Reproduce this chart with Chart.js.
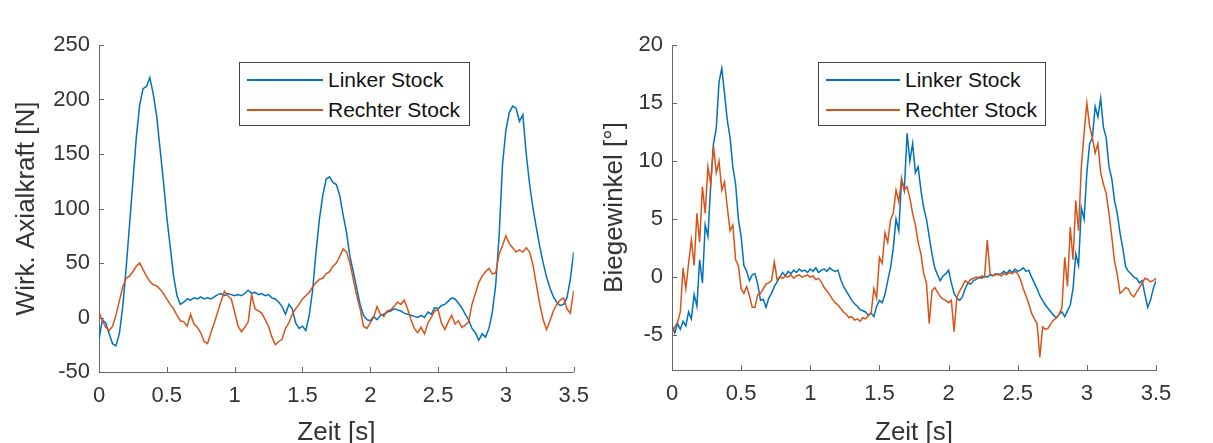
<!DOCTYPE html>
<html>
<head>
<meta charset="utf-8">
<script src="https://cdn.jsdelivr.net/npm/chart.js@4"></script>
<style>
    body { margin: 0; background: #fff; width: 1213px; height: 443px; overflow: hidden; position: relative; font-family: "Liberation Sans", Arial, sans-serif; }
    .plot { position: absolute; top: 0; height: 460px; }
    #boxKraft { left: 0; width: 600px; }
    #boxWinkel { left: 590px; width: 623px; }
    .legende { position: absolute; top: 62px; height: 64px; box-sizing: border-box; border: 1px solid #444; background: #fff; padding-top: 2px; z-index: 5; }
    .legende .zeile { display: flex; align-items: center; height: 30px; font-size: 21px; color: #111; white-space: nowrap; }
    .legende .strich { height: 1.6px; margin-left: 7px; margin-right: 5px; }
</style>
</head>
<body>

<div class="plot" id="boxKraft"><canvas id="kraft"></canvas></div>
<div class="plot" id="boxWinkel"><canvas id="winkel"></canvas></div>

<div class="legende" style="left:239px; width:231px;">
    <div class="zeile"><span class="strich" style="width:76px; background:#0072BD;"></span>Linker Stock</div>
    <div class="zeile"><span class="strich" style="width:76px; background:#D95319;"></span>Rechter Stock</div>
</div>
<div class="legende" style="left:818px; width:228px;">
    <div class="zeile"><span class="strich" style="width:74px; background:#0072BD;"></span>Linker Stock</div>
    <div class="zeile"><span class="strich" style="width:74px; background:#D95319;"></span>Rechter Stock</div>
</div>

<script>
// abtastung der kurven (s)
const dtKraft = 0.025;
const dtWinkel = 0.02;

// achsen-ticks
const zeitTicks = [0, 0.5, 1, 1.5, 2, 2.5, 3, 3.5];
const kraftTicks = [-50, 0, 50, 100, 150, 200, 250];
const winkelTicks = [-5, 0, 5, 10, 15, 20];

// wirk. axialkraft [N], alle 0.025 s
const kraftLinks = [
    -20, -2, -5, -15, -24, -26, -15, 10, 45, 85,
    125, 165, 195, 210, 212, 220, 205, 185, 155, 125,
    92, 65, 38, 20, 12, 14, 17, 16, 18, 17,
    19, 17, 18, 17, 19, 21, 22, 20, 22, 21,
    20, 21, 20, 22, 25, 22, 23, 21, 22, 20,
    21, 18, 17, 14, 10, 3, 12, 8, -5, -10,
    -8, -12, 2, 25, 60, 90, 112, 127, 129, 124,
    122, 112, 94, 78, 56, 42, 27, 12, 2, -2,
    -3, 1, -2, 2, 3, 5, 6, 8, 7, 6,
    4, 3, 2, 1, 0, 2, 0, 5, 3, 9,
    8, 11, 12, 15, 18, 17, 13, 9, 3, -2,
    -10, -14, -21, -15, -18, -10, 5, 30, 75, 140,
    172, 188, 194, 192, 180, 186, 150, 122, 100, 82,
    65, 50, 37, 27, 19, 14, 11, 12, 18, 35,
    60
];
const kraftRechts = [
    5, -3, -9, -12, -8, 2, 15, 28, 36, 38,
    42, 47, 50, 44, 38, 33, 30, 29, 26, 22,
    17, 12, 8, 2, -3, -4, -8, 3, -6, -9,
    -14, -22, -24, -14, -5, 5, 15, 24, 20, 17,
    5, -8, -13, -9, -4, 21, 8, 6, 4, -2,
    -8, -18, -25, -22, -20, -10, -5, 3, 8, 12,
    17, 20, 23, 28, 32, 35, 36, 40, 42, 47,
    50, 56, 63, 60, 50, 35, 20, 8, -8, -10,
    -5, 0, 10, 3, 1, 6, 7, 10, 14, 12,
    16, 8, -2, -10, -14, -9, -15, -5, 0, 6,
    7, -5, -11, -4, 2, -6, -3, -9, -7, -4,
    12, 22, 32, 38, 42, 45, 40, 41, 58, 66,
    75, 68, 64, 60, 62, 60, 64, 60, 48, 30,
    12, -2, -11, -3, 6, 12, 16, 18, 8, 4,
    25
];

// biegewinkel [°], alle 0.02 s
const winkelLinks = [
    -4.2, -4.8, -4.0, -4.5, -3.8, -4.2, -3.0, -3.6, -1.5, -2.5,
    1.5, -0.5, 4.5, 3.5, 8.0, 11.5, 12.8, 16.8, 18.0, 15.8,
    13.5, 12.0, 9.5, 8.0, 5.0, 3.5, 1.0, 0.5, -0.3, 0.2,
    0.3, -0.6, -2.0, -1.9, -2.6, -1.8, -1.4, -0.8, -0.4, 0.0,
    0.4, 0.1, 0.5, 0.3, 0.6, 0.4, 0.7, 0.5, 0.6, 0.4,
    0.7, 0.5, 0.8, 0.4, 0.6, 0.7, 0.5, 0.8, 0.6, 0.5,
    0.6, -0.2, -0.8, -1.2, -1.6, -2.0, -2.3, -2.5, -2.8, -2.9,
    -3.0, -3.3, -3.1, -3.4, -2.5, -2.0, -2.2, -1.5, -0.3, 0.8,
    2.5, 5.0, 4.0, 8.5, 7.5, 12.4, 10.0, 11.5, 9.0, 9.5,
    7.5, 6.0, 5.0, 3.5, 2.0, 0.8, 0.2, -0.3, 0.1, 0.3,
    0.6, -0.5, -1.4, -1.8, -2.0, -1.7, -1.0, -0.5, -0.6, -0.3,
    -0.2, 0.0, -0.1, 0.1, 0.0, 0.2, 0.1, 0.3, 0.2, 0.3,
    0.5, 0.3, 0.6, 0.4, 0.7, 0.5, 0.6, 0.8, 0.5, 0.6,
    0.0, -0.5, -1.0, -1.6, -2.0, -2.4, -2.7, -3.0, -3.3, -3.5,
    -3.2, -3.0, -3.4, -2.9, -2.4, -1.0, 2.0, 1.0, 6.0, 5.0,
    9.0, 11.5, 12.0, 14.7, 13.8, 15.4, 12.9, 12.0, 9.5, 8.5,
    6.6, 5.5, 3.8, 2.5, 0.9, 0.5, 0.3, 0.0, -0.1, -0.5,
    -0.3, -1.5, -2.6, -2.0, -1.0, -0.3
];
const winkelRechts = [
    -4.8, -4.3, -3.9, -3.0, 0.8, -1.0, 1.2, 3.2, 1.0, 5.5,
    3.0, 7.8, 5.5, 9.5, 8.0, 11.3, 9.0, 10.0, 7.5, 8.2,
    6.0, 4.0, 4.5, 1.5, 1.0, -1.0, -1.4, -0.8, -1.6, -2.6,
    -2.6, -1.5, -1.4, -1.0, -0.6, -0.5, -0.3, 1.3, -0.2, 0.0,
    -0.1, 0.1, 0.0, 0.2, -0.1, 0.1, 0.2, 0.0, 0.1, 0.2,
    0.0, 0.1, -0.2, -0.1, -0.4, -0.9, -1.2, -1.5, -1.9, -2.2,
    -2.4, -2.7, -3.0, -3.2, -3.5, -3.4, -3.7, -3.6, -3.8, -3.5,
    -3.6, -3.3, -3.1, -1.0, -1.8, 1.7, 1.2, 3.8, 3.0, 4.9,
    5.5, 7.5, 6.5, 8.4, 7.5, 7.8, 6.8, 5.5, 4.5, 3.0,
    2.0, 0.3, -0.5, -4.0, -1.2, -0.9, -1.3, -1.7, -1.9, -2.0,
    -2.2, -2.0, -4.7, -1.7, -1.2, -0.8, -0.3, -0.5, -0.2, -0.1,
    0.0, -0.1, 0.1, 0.0, 3.2, 0.3, 0.1, 0.2, 0.3, 0.1,
    0.3, 0.2, 0.4, 0.3, 0.5, 0.3, -0.2, -1.0, -1.6, -2.3,
    -3.1, -3.6, -4.0, -6.9, -4.3, -4.5, -4.4, -4.0, -3.7, -3.5,
    -3.2, -2.6, 1.7, -0.8, 4.3, 1.5, 6.6, 4.0, 9.5, 12.4,
    15.0, 13.0, 12.0, 10.7, 11.5, 9.0, 8.0, 7.2, 5.5, 3.5,
    1.4, 0.2, -1.4, -1.2, -0.9, -1.0, -1.5, -1.7, -1.3, -0.9,
    -0.5, -0.1, -0.2, -0.4, -0.3, -0.1
];

const blau = '#0072BD';
const orange = '#D95319';
const achsFarbe = '#666';
const schrift = '"Liberation Sans", Arial, sans-serif';

// zeitpunkte zu den messwerten
function zuPunkten(werte, dt) {
    return werte.map((v, i) => ({ x: Math.round(i * dt * 1000) / 1000, y: v }));
}

// ticks wie in matlab nach innen
const innenTicks = {
    id: 'innenTicks',
    afterDatasetsDraw(chart) {
        const { ctx, chartArea, scales } = chart;
        ctx.save();
        ctx.strokeStyle = achsFarbe;
        ctx.lineWidth = 1;
        ctx.beginPath();
        scales.x.ticks.forEach(t => {
            const px = Math.round(scales.x.getPixelForValue(t.value)) + 0.5;
            ctx.moveTo(px, chartArea.bottom);
            ctx.lineTo(px, chartArea.bottom - 5);
        });
        scales.y.ticks.forEach(t => {
            const py = Math.round(scales.y.getPixelForValue(t.value)) + 0.5;
            ctx.moveTo(chartArea.left, py);
            ctx.lineTo(chartArea.left + 5, py);
        });
        ctx.stroke();
        ctx.restore();
    }
};

function erstelleDiagramm(id, links, rechts, dt, yMin, yMax, yTicks, yTitel, cfg) {
    const ctx = document.getElementById(id).getContext('2d');
    return new Chart(ctx, {
        type: 'line',
        data: {
            datasets: [{
                label: 'Linker Stock',
                data: zuPunkten(links, dt),
                borderColor: blau,
                borderWidth: 1.5,
                pointRadius: 0,
                order: 1
            }, {
                label: 'Rechter Stock',
                data: zuPunkten(rechts, dt),
                borderColor: orange,
                borderWidth: 1.5,
                pointRadius: 0,
                order: 0
            }]
        },
        options: {
            responsive: true,
            maintainAspectRatio: false,
            animation: false,
            events: [],
            layout: { padding: { top: cfg.oben, right: cfg.rechts, left: 0, bottom: 0 } },
            plugins: {
                legend: { display: false },
                tooltip: { enabled: false }
            },
            scales: {
                x: {
                    type: 'linear',
                    min: 0,
                    max: 3.5,
                    grid: { display: false, drawTicks: false },
                    border: { display: true, color: achsFarbe, width: 1 },
                    afterBuildTicks: s => { s.ticks = zeitTicks.map(v => ({ value: v })); },
                    afterFit: s => { s.height = cfg.xHoehe; },
                    ticks: {
                        autoSkip: false,
                        maxRotation: 0,
                        padding: 11,
                        color: '#333',
                        font: { family: schrift, size: 22 },
                        callback: v => String(v)
                    },
                    title: {
                        display: true,
                        text: 'Zeit [s]',
                        color: '#333',
                        font: { family: schrift, size: 26, lineHeight: 1.2 },
                        padding: { top: 0, bottom: 12 }
                    }
                },
                y: {
                    type: 'linear',
                    min: yMin,
                    max: yMax,
                    grid: { display: false, drawTicks: false },
                    border: { display: true, color: achsFarbe, width: 1 },
                    afterBuildTicks: s => { s.ticks = yTicks.map(v => ({ value: v })); },
                    afterFit: s => { s.width = cfg.yBreite; },
                    ticks: {
                        autoSkip: false,
                        padding: 9,
                        color: '#333',
                        font: { family: schrift, size: 22 },
                        callback: v => String(v)
                    },
                    title: {
                        display: true,
                        text: yTitel,
                        color: '#333',
                        font: { family: schrift, size: 26, lineHeight: 1.2 },
                        padding: { top: cfg.titelAbstand, bottom: 0 }
                    }
                }
            }
        },
        plugins: [innenTicks]
    });
}

erstelleDiagramm('kraft', kraftLinks, kraftRechts, dtKraft, -50, 250, kraftTicks, 'Wirk. Axialkraft [N]',
    { oben: 45, rechts: 26, xHoehe: 88, yBreite: 99, titelAbstand: 11 });

erstelleDiagramm('winkel', winkelLinks, winkelRechts, dtWinkel, -8, 20, winkelTicks, 'Biegewinkel [°]',
    { oben: 45, rechts: 57, xHoehe: 90, yBreite: 82, titelAbstand: 9 });
</script>
</body>
</html>
